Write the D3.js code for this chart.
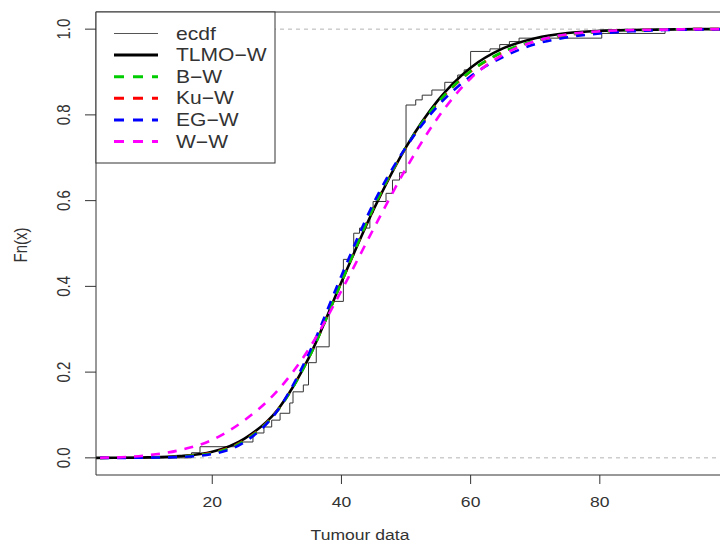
<!DOCTYPE html>
<html>
<head>
<meta charset="utf-8">
<script src="https://cdn.jsdelivr.net/npm/d3@7"></script>
<style>
  body { margin: 0; background: #fff; }
  text { font-family: "Liberation Sans", Arial, sans-serif; fill: #333; }
</style>
</head>
<body>
<svg class="chart"></svg>
<script>
// ecdf jumps: x position and Fn(x) just after the jump
var ecdfX = [16.8, 18.1, 23.8, 26.3, 28.0, 29.2, 30.5, 32.0, 32.5, 34.1, 34.9, 36.1, 38.1, 38.6,
             40.3, 41.3, 41.9, 42.8, 44.4, 44.9, 46.9, 47.9, 49.0, 50.0, 51.5, 52.5, 54.0, 56.0,
             58.0, 59.0, 60.0, 63.0, 64.5, 66.0, 67.5, 80.3, 90.1];
var ecdfF = [0.012, 0.026, 0.037, 0.058, 0.072, 0.088, 0.104, 0.128, 0.154, 0.17, 0.222, 0.259, 0.354, 0.365,
             0.463, 0.471, 0.524, 0.536, 0.571, 0.598, 0.617, 0.648, 0.665, 0.823, 0.835, 0.846, 0.858, 0.876,
             0.893, 0.905, 0.948, 0.954, 0.964, 0.971, 0.979, 0.99, 1.0];

// fitted cdfs
var xGrid = [0, 5, 10, 15, 20, 25, 30, 35, 40, 45, 50, 55, 60, 65, 70, 75, 80, 85, 90, 95, 100];
var tlmoW = [0, 0.0001, 0.001, 0.004, 0.014, 0.045, 0.11, 0.235, 0.41, 0.58, 0.725, 0.835, 0.91, 0.955, 0.979, 0.991, 0.996, 0.998, 0.999, 1, 1];
var bW    = [0, 0.0001, 0.0007, 0.003, 0.011, 0.04, 0.108, 0.235, 0.41, 0.585, 0.725, 0.83, 0.902, 0.947, 0.973, 0.987, 0.994, 0.997, 0.999, 1, 1];
var kuW   = [0, 0.0001, 0.0008, 0.003, 0.012, 0.041, 0.109, 0.236, 0.41, 0.584, 0.724, 0.829, 0.901, 0.946, 0.972, 0.986, 0.994, 0.997, 0.999, 1, 1];
var egW   = [0, 0, 0.0005, 0.002, 0.009, 0.037, 0.108, 0.245, 0.425, 0.595, 0.725, 0.822, 0.89, 0.935, 0.965, 0.981, 0.99, 0.995, 0.998, 0.999, 1];
var wW    = [0, 0.001, 0.006, 0.018, 0.042, 0.088, 0.155, 0.255, 0.39, 0.535, 0.675, 0.795, 0.885, 0.94, 0.972, 0.988, 0.995, 0.998, 0.999, 1, 1];

var xTicks = [20, 40, 60, 80];
var yTicks = [0, 0.2, 0.4, 0.6, 0.8, 1.0];
var legendLabels = ["ecdf", "TLMO\u2212W", "B\u2212W", "Ku\u2212W", "EG\u2212W", "W\u2212W"];

var W = 720, H = 544;
var pL = 96, pT = 12, pR = 729, pB = 475;
var sx = 1.17; // the picture is stretched sideways a little

var x = d3.scaleLinear().domain([2, 100]).range([pL, pR]);
var y = d3.scaleLinear().domain([-0.04, 1.04]).range([pB, pT]);

var svg = d3.select(".chart").attr("width", W).attr("height", H);

svg.append("clipPath").attr("id", "plotclip")
  .append("rect").attr("x", pL).attr("y", pT)
  .attr("width", pR - pL).attr("height", pB - pT);

var plot = svg.append("g").attr("clip-path", "url(#plotclip)");

// grey reference lines at 0 and 1
plot.selectAll("line.ref")
    .data([0, 1])
  .enter().append("line")
    .attr("x1", pL).attr("x2", pR)
    .attr("y1", function(d) { return y(d); })
    .attr("y2", function(d) { return y(d); })
    .attr("stroke", "#b3b3b3").attr("stroke-width", 1)
    .attr("stroke-dasharray", "4,4");

// ecdf steps
var steps = [[2, 0]];
ecdfX.forEach(function(d, i) { steps.push([d, ecdfF[i]]); });
steps.push([100, 1]);

plot.append("path")
    .datum(steps)
    .attr("fill", "none").attr("stroke", "#333").attr("stroke-width", 1)
    .attr("d", d3.line()
        .x(function(d) { return x(d[0]); })
        .y(function(d) { return y(d[1]); })
        .curve(d3.curveStepAfter));

var curve = d3.line()
    .x(function(d) { return x(d[0]); })
    .y(function(d) { return y(d[1]); })
    .curve(d3.curveMonotoneX);

var fits = [
  { vals: tlmoW, color: "#000",    dash: null },
  { vals: kuW,   color: "#ff0000", dash: "9,8" },
  { vals: bW,    color: "#00cd00", dash: "9,8" },
  { vals: egW,   color: "#0000ff", dash: "9,8" },
  { vals: wW,    color: "#ff00ff", dash: "9,8" }
];

fits.forEach(function(f) {
  plot.append("path")
      .datum(xGrid.map(function(d, i) { return [d, f.vals[i]]; }))
      .attr("fill", "none")
      .attr("stroke", f.color)
      .attr("stroke-width", 2.6)
      .attr("stroke-dasharray", f.dash)
      .attr("d", curve);
});

// box
svg.append("path")
    .attr("d", "M" + (W + 5) + "," + pT + "H" + pL + "V" + pB + "H" + (W + 5))
    .attr("fill", "none").attr("stroke", "#333").attr("stroke-width", 1);

// axes, R style
var gx = svg.append("g");
gx.selectAll("line")
    .data(xTicks)
  .enter().append("line")
    .attr("x1", function(d) { return x(d); }).attr("x2", function(d) { return x(d); })
    .attr("y1", pB).attr("y2", pB + 9)
    .attr("stroke", "#333");
gx.selectAll("text")
    .data(xTicks)
  .enter().append("text")
    .attr("transform", function(d) { return "translate(" + x(d) + "," + (pB + 32) + ") scale(" + sx + ",1)"; })
    .attr("text-anchor", "middle")
    .style("font-size", "15px")
    .text(function(d) { return d; });

var gy = svg.append("g");
gy.selectAll("line")
    .data(yTicks)
  .enter().append("line")
    .attr("x1", pL - 11).attr("x2", pL)
    .attr("y1", function(d) { return y(d); }).attr("y2", function(d) { return y(d); })
    .attr("stroke", "#333");
gy.selectAll("text")
    .data(yTicks)
  .enter().append("text")
    .attr("transform", function(d) { return "translate(" + (pL - 26) + "," + y(d) + ") scale(" + sx + ",1) rotate(-90)"; })
    .attr("text-anchor", "middle")
    .style("font-size", "15px")
    .text(function(d) { return d3.format(".1f")(d); });

svg.append("text")
    .attr("transform", "translate(" + 360 + "," + 540 + ") scale(" + sx + ",1)")
    .attr("text-anchor", "middle")
    .style("font-size", "15px")
    .text("Tumour data");

svg.append("text")
    .attr("transform", "translate(" + 27 + "," + 245 + ") scale(" + sx + ",1) rotate(-90)")
    .attr("text-anchor", "middle")
    .style("font-size", "15px")
    .text("Fn(x)");

// legend
var leg = svg.append("g");
leg.append("rect")
    .attr("x", pL).attr("y", pT).attr("width", 179).attr("height", 151)
    .attr("fill", "#fff").attr("stroke", "#333").attr("stroke-width", 1);

var legStyles = [
  { color: "#555", w: 1, dash: null },
  { color: "#000", w: 3, dash: null },
  { color: "#00cd00", w: 3, dash: "10,9" },
  { color: "#ff0000", w: 3, dash: "10,9" },
  { color: "#0000ff", w: 3, dash: "10,9" },
  { color: "#ff00ff", w: 3, dash: "10,9" }
];

var rows = leg.selectAll("g.row")
    .data(legendLabels)
  .enter().append("g")
    .attr("transform", function(d, i) { return "translate(0," + (33.5 + i * 21.6) + ")"; });

rows.append("line")
    .attr("x1", 114).attr("x2", 158).attr("y1", 0).attr("y2", 0)
    .attr("stroke", function(d, i) { return legStyles[i].color; })
    .attr("stroke-width", function(d, i) { return legStyles[i].w; })
    .attr("stroke-dasharray", function(d, i) { return legStyles[i].dash; });

rows.append("text")
    .attr("transform", "translate(176,6) scale(" + sx + ",1)")
    .style("font-size", "18px")
    .text(function(d) { return d; });
</script>
</body>
</html>
